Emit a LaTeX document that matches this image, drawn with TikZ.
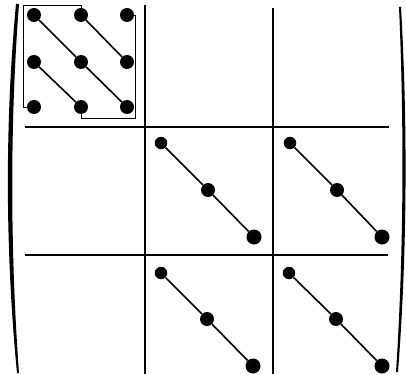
\documentclass[tikz,border=0pt]{standalone}
\begin{document}
\begin{tikzpicture}[x=1pt,y=-1pt,
  dot/.style={circle,fill=black,inner sep=0pt,minimum size=14pt},
  sdot/.style={circle,fill=black,inner sep=0pt,minimum size=12.5pt},
  bdot/.style={circle,fill=black,inner sep=0pt,minimum size=15pt},
  link/.style={line width=1.6pt},
  grid/.style={line width=1.4pt},
  outline/.style={line width=0.7pt}]
\useasboundingbox (0,0) rectangle (406,374);
% parentheses
\fill (16,4) .. controls (5,120) and (5,250) .. (17,373) -- (19,373) .. controls (10,250) and (10,120) .. (19,4) -- cycle;
\fill (401,7) .. controls (407.5,120) and (407.5,250) .. (398,372) -- (396,372) .. controls (404,250) and (404,120) .. (399,7) -- cycle;
% grid lines
\coordinate (v1t) at (145,5);  \coordinate (v1b) at (145,374);
\coordinate (v2t) at (273,8);  \coordinate (v2b) at (273,374);
\coordinate (h1l) at (25,127); \coordinate (h1r) at (389,127);
\coordinate (h2l) at (25,255); \coordinate (h2r) at (388,255);
\draw[grid] (v1t) -- (v1b);
\draw[grid] (v2t) -- (v2b);
\draw[grid] (h1l) -- (h1r);
\draw[grid] (h2l) -- (h2r);
% top-left block
\node[dot] (a11) at (34,15) {};
\node[dot] (a12) at (81,15) {};
\node[dot] (a13) at (127,15) {};
\node[dot] (a21) at (34,62) {};
\node[dot] (a22) at (81,62) {};
\node[dot] (a23) at (127,62) {};
\node[dot] (a31) at (34,107) {};
\node[dot] (a32) at (81,107) {};
\node[dot] (a33) at (127,107) {};
\draw[link] (a11) -- (a22) -- (a33);
\draw[link] (a12) -- (a23);
\draw[link] (a21) -- (a32);
% thin outline
\coordinate (o1) at (23,107);
\coordinate (o2) at (23,5);
\coordinate (o3) at (81,5);
\coordinate (o4) at (135,15);
\coordinate (o5) at (135,118);
\coordinate (o6) at (81,118);
\draw[outline] (a31.center) -- (o1) -- (o2) -- (o3) -- (a12.center);
\draw[outline] (a13.center) -- (o4) -- (o5) -- (o6) -- (a32.center);
% other blocks
\node[sdot] (b1) at (161,143) {};
\node[dot]  (b2) at (208,190) {};
\node[bdot] (b3) at (254,237) {};
\draw[link] (b1) -- (b2) -- (b3);
\node[sdot] (c1) at (290,143) {};
\node[dot]  (c2) at (337,190) {};
\node[bdot] (c3) at (382,237) {};
\draw[link] (c1) -- (c2) -- (c3);
\node[sdot] (d1) at (161,273) {};
\node[dot]  (d2) at (207,319) {};
\node[bdot] (d3) at (253,366) {};
\draw[link] (d1) -- (d2) -- (d3);
\node[sdot] (e1) at (289,273) {};
\node[dot]  (e2) at (336,319) {};
\node[bdot] (e3) at (382,366) {};
\draw[link] (e1) -- (e2) -- (e3);
\end{tikzpicture}
\end{document}
